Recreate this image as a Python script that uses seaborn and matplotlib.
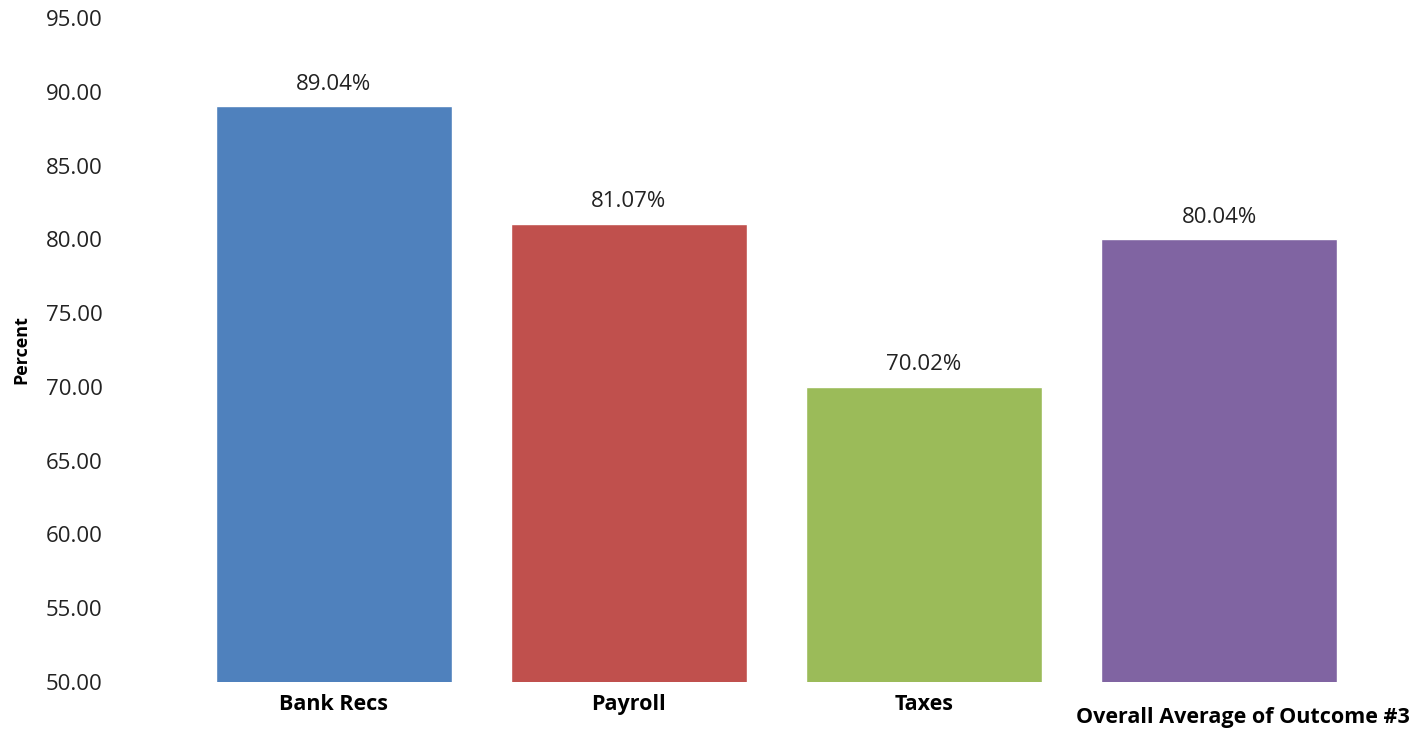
import matplotlib
matplotlib.use("Agg")
import matplotlib.pyplot as plt
import matplotlib.transforms as mtransforms
import seaborn as sns
import pandas as pd

categories = ["Bank Recs", "Payroll", "Taxes", "Overall Average of Outcome #3"]
percent = [89.04, 81.07, 70.02, 80.04]
colors = ["#4F81BD", "#C0504D", "#9BBB59", "#8064A2"]
y_ticks = [50, 55, 60, 65, 70, 75, 80, 85, 90, 95]

sns.set_theme(style="white")
plt.rcParams["font.family"] = ["Open Sans", "DejaVu Sans"]

df = pd.DataFrame({"category": categories, "percent": percent})

fig = plt.figure(figsize=(14.18, 7.33), dpi=100)
ax = fig.add_axes([0.1312, 0.0696, 0.8328, 0.9058])

sns.barplot(data=df, x="category", y="percent", hue="category",
            palette=colors, order=categories, hue_order=categories,
            width=0.8, legend=False, ax=ax, saturation=1)

ax.set_ylim(50, 95)
ax.set_xlim(-0.5, 3.5)
ax.set_yticks(y_ticks)
ax.set_yticklabels([f"{v:.2f}" for v in y_ticks], fontsize=16, color="#222222")
ax.tick_params(axis="y", length=0, pad=60)
ax.tick_params(axis="x", length=0, pad=9)

ax.set_xlabel("")
ax.set_ylabel("Percent", fontsize=13, fontweight="bold", color="black", labelpad=11)
for lbl in ax.get_xticklabels():
    lbl.set_fontsize(15.5)
    lbl.set_fontweight("bold")
    lbl.set_color("black")
# the long last label sits a little lower and further right than the others
last = ax.get_xticklabels()[-1]
last.set_transform(last.get_transform() +
                   mtransforms.ScaledTranslation(24 / 100, -13 / 100, fig.dpi_scale_trans))

for cont in ax.containers:
    ax.bar_label(cont, fmt="%.2f%%", padding=8, fontsize=16, color="#222222")

for side in ["top", "right", "left", "bottom"]:
    ax.spines[side].set_visible(False)

fig.savefig("out.png", dpi=100, facecolor="white")
